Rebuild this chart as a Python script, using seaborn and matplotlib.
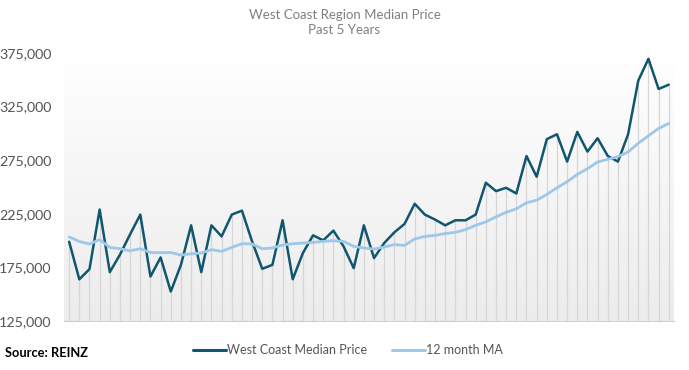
import numpy as np
import pandas as pd
import matplotlib
matplotlib.use("Agg")
import matplotlib.pyplot as plt
import seaborn as sns

# ── Data (monthly, last 5 years) ──────────────────────────────────────────────
months = list(range(60))

median_price = [
    199000, 164000, 173500, 229000, 170700, 187000, 206000, 224300, 166600, 184400,
    152600, 177500, 214300, 170700, 214300, 204000, 224300, 228000, 199300, 173800,
    177500, 219000, 164100, 188500, 205000, 200300, 209400, 194700, 174400, 214300,
    183800, 197800, 207800, 215600, 234400, 224300, 219700, 214300, 219000, 219000,
    224300, 254000, 246200, 249300, 244000, 278900, 259600, 294600, 299200, 273700,
    301400, 283000, 295500, 278900, 273700, 299200, 349200, 369500, 341400, 345400,
]

moving_avg = [
    203500, 199300, 196900, 201000, 193700, 192500, 190600, 192500, 189000, 188800,
    189000, 186600, 187800, 188500, 191600, 190000, 193700, 197200, 196900, 192500,
    193200, 196000, 197200, 197800, 198400, 199300, 200000, 199300, 194700, 193200,
    192200, 194100, 196300, 195600, 201600, 204000, 205000, 206600, 207800, 210300,
    214300, 217500, 222200, 226500, 229700, 235300, 237700, 243100, 249300, 255000,
    261800, 267100, 273300, 275800, 278400, 282700, 290800, 297700, 304600, 309300,
]

y_ticks = [125000, 175000, 225000, 275000, 325000, 375000]

DARK = "#10566f"
LIGHT = "#9dc8e8"
GREY_TXT = "#555555"

df = pd.DataFrame({
    "month": months * 2,
    "price": median_price + moving_avg,
    "series": ["West Coast Median Price"] * 60 + ["12 month MA"] * 60,
})

sns.set_style("white")
plt.rcParams["font.family"] = ["Lato", "DejaVu Sans"]

fig = plt.figure(figsize=(6.89, 3.70), dpi=100)
ax = fig.add_axes([0.093, 0.132, 0.885, 0.725])

# soft grey gradient behind the plot area
grad = np.linspace(0, 1, 256).reshape(-1, 1)
ax.imshow(grad, extent=(-0.5, 59.5, 125000, 375000), aspect="auto",
          cmap=matplotlib.colors.LinearSegmentedColormap.from_list("bg", ["#ffffff", "#ececec"]),
          origin="upper", zorder=0)

# drop lines from each monthly value down to the axis
ax.vlines(months, 125000, median_price, color="#d6d6d6", linewidth=0.9, zorder=1)

sns.lineplot(data=df, x="month", y="price", hue="series",
             palette={"West Coast Median Price": DARK, "12 month MA": LIGHT},
             linewidth=1.8, ax=ax, legend=False, zorder=3)
ax.lines[-1].set_linewidth(2.0)

ax.set_xlim(-0.5, 59.5)
ax.set_ylim(125000, 375000)
ax.set_yticks(y_ticks)
ax.set_yticklabels([f"{v:,}" for v in y_ticks], color=GREY_TXT, fontsize=10.3)
ax.set_xticks([m + 0.5 for m in months[:-1]])
ax.set_xticklabels([])
ax.tick_params(axis="x", length=3, width=0.8, color="#d0d0d0", direction="out")
ax.tick_params(axis="y", length=0, pad=9)
ax.set_xlabel("")
ax.set_ylabel("")
for side in ["top", "right", "left"]:
    ax.spines[side].set_visible(False)
ax.spines["bottom"].set_color("#d0d0d0")
ax.spines["bottom"].set_linewidth(0.8)

fig.suptitle("West Coast Region Median Price\nPast 5 Years", y=0.975,
             fontsize=9.5, color="#808080", linespacing=1.25)

handles = [plt.Line2D([], [], color=DARK, linewidth=2.2),
           plt.Line2D([], [], color=LIGHT, linewidth=2.2)]
fig.legend(handles, ["West Coast Median Price", "12 month MA"], loc="center",
           bbox_to_anchor=(0.505, 0.053), ncol=2, frameon=False, fontsize=9,
           labelcolor=GREY_TXT, handlelength=2.6, handletextpad=0.1, columnspacing=2.0)

fig.text(0.007, 0.035, "Source: REINZ", fontsize=9.3, fontweight="bold", color="black")

fig.savefig("out.png", dpi=100)
